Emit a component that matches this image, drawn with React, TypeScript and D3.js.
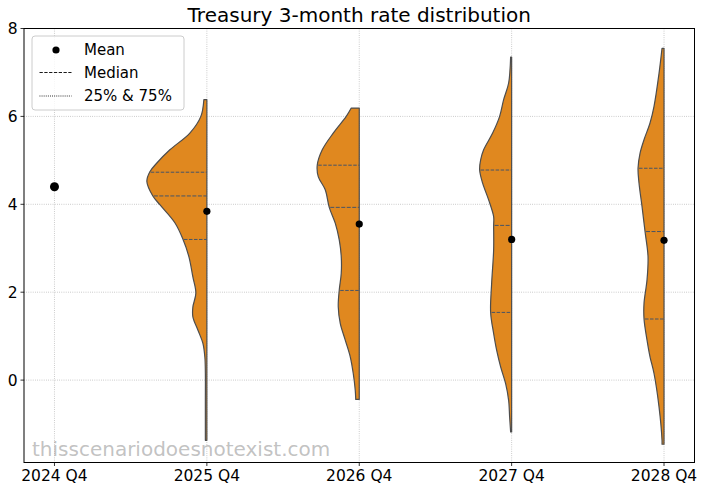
import React from "react";
import * as d3 from "d3";

const categories = ["2024 Q4", "2025 Q4", "2026 Q4", "2027 Q4", "2028 Q4"];
const means = [4.4, 3.84, 3.55, 3.2, 3.18];
const medians = [null, 4.19, 3.93, 3.52, 3.38];
const q25 = [null, 3.2, 2.04, 1.54, 1.39];
const q75 = [null, 4.73, 4.89, 4.78, 4.82];
const yTicks = [0, 2, 4, 6, 8];

// violin profiles: rate levels (top to bottom) and relative density at each level
const rates2025 = [6.38, 6.0, 5.62, 5.24, 4.94, 4.74, 4.52, 4.19, 3.99, 3.58, 3.21, 2.81, 2.35, 1.98, 1.66, 1.44, 1.14, 0.84, 0.52, 0.16, -0.5, -1.37];
const dens2025 = [0.03, 0.06, 0.17, 0.37, 0.5, 0.57, 0.6, 0.54, 0.47, 0.32, 0.24, 0.18, 0.14, 0.11, 0.14, 0.14, 0.09, 0.04, 0.02, 0.015, 0.015, 0.015];
const rates2026 = [6.19, 6.0, 5.62, 5.24, 4.89, 4.63, 4.33, 3.93, 3.57, 3.19, 2.81, 2.43, 2.05, 1.67, 1.29, 0.91, 0.53, 0.15, -0.23, -0.44];
const dens2026 = [0.08, 0.13, 0.26, 0.37, 0.42, 0.41, 0.34, 0.3, 0.24, 0.2, 0.18, 0.18, 0.2, 0.21, 0.19, 0.14, 0.09, 0.06, 0.04, 0.035];
const rates2027 = [7.35, 6.76, 6.38, 6.0, 5.62, 5.24, 5.01, 4.78, 4.48, 4.1, 3.72, 3.52, 2.96, 2.2, 1.54, 1.06, 0.68, 0.3, -0.08, -0.46, -0.84, -1.18];
const dens2027 = [0.01, 0.03, 0.08, 0.12, 0.19, 0.28, 0.31, 0.32, 0.29, 0.23, 0.18, 0.18, 0.18, 0.2, 0.21, 0.18, 0.15, 0.11, 0.06, 0.03, 0.02, 0.01];
const rates2028 = [7.55, 6.98, 6.23, 5.85, 5.47, 5.16, 4.82, 4.48, 3.95, 3.38, 2.81, 2.28, 1.75, 1.39, 0.91, 0.53, 0.15, -0.61, -1.37, -1.46];
const dens2028 = [0.02, 0.05, 0.1, 0.14, 0.2, 0.24, 0.26, 0.25, 0.22, 0.19, 0.16, 0.17, 0.2, 0.2, 0.17, 0.14, 0.1, 0.05, 0.02, 0.02];

const violinRates: (number[] | null)[] = [null, rates2025, rates2026, rates2027, rates2028];
const violinDens: (number[] | null)[] = [null, dens2025, dens2026, dens2027, dens2028];

const W = 704;
const H = 492;
const left = 24;
const right = 694.5;
const top = 28.5;
const bottom = 462.5;
const FONT = "DejaVu Sans, sans-serif";
const FILL = "#e0881f";
const INNER = "#475466";

export default function App() {
  const x = d3.scaleLinear().domain([-0.2, 4.2]).range([left, right]);
  const y = d3.scaleLinear().domain([-1.875, 8]).range([bottom, top]);
  const w = d3.scaleLinear().domain([0, 1]).range([0, 100]);

  const violins = categories.map((c, i) => {
    const rates = violinRates[i];
    const dens = violinDens[i];
    if (!rates || !dens) return null;
    const cx = x(i);
    const pts: [number, number][] = rates.map((r, k) => [cx - w(dens[k]), y(r)]);
    const edge = d3.line().curve(d3.curveCatmullRom.alpha(0.5))(pts) as string;
    const path = `M${cx},${y(rates[0])}L${edge.slice(1)}L${cx},${y(rates[rates.length - 1])}Z`;
    const interp = d3.scaleLinear().domain(rates).range(dens);
    const lines = [
      { v: q75[i] as number, dash: "3.5,1.5" },
      { v: medians[i] as number, dash: "4,1.5" },
      { v: q25[i] as number, dash: "3.5,1.5" },
    ];
    return (
      <g key={c}>
        <path d={path} fill={FILL} stroke="#4d4d4d" strokeWidth={1.2} strokeLinejoin="round" />
        {lines.map((l, k) => (
          <line
            key={k}
            x1={cx - w(interp(l.v)) + 1}
            x2={cx}
            y1={y(l.v)}
            y2={y(l.v)}
            stroke={INNER}
            strokeWidth={1}
            strokeDasharray={l.dash}
          />
        ))}
      </g>
    );
  });

  return (
    <svg
      width={W}
      height={H}
      style={{ position: "absolute", left: 0, top: 0, background: "#fff" }}
      fontFamily={FONT}
    >
      <rect x={0} y={0} width={W} height={H} fill="#fff" />
      {/* grid */}
      {categories.map((c, i) => (
        <line key={c} x1={x(i)} x2={x(i)} y1={top} y2={bottom} stroke="#b0b0b0" strokeWidth={0.8} strokeDasharray="0.8,1.4" />
      ))}
      {yTicks.map((t) => (
        <line key={t} x1={left} x2={right} y1={y(t)} y2={y(t)} stroke="#b0b0b0" strokeWidth={0.8} strokeDasharray="0.8,1.4" />
      ))}
      {violins}
      {/* means */}
      {means.map((m, i) => (
        <circle key={i} cx={x(i)} cy={y(m)} r={i === 0 ? 4.5 : 3.6} fill="#000" />
      ))}
      {/* spines */}
      <rect x={left} y={top} width={right - left} height={bottom - top} fill="none" stroke="#000" strokeWidth={1} />
      {/* y ticks */}
      {yTicks.map((t) => (
        <g key={t}>
          <line x1={left - 3.5} x2={left} y1={y(t)} y2={y(t)} stroke="#000" strokeWidth={0.8} />
          <text x={left - 6.5} y={y(t)} dy="0.36em" textAnchor="end" fontSize={15.5} fill="#000">
            {t}
          </text>
        </g>
      ))}
      {/* x ticks */}
      {categories.map((c, i) => (
        <g key={c}>
          <line x1={x(i)} x2={x(i)} y1={bottom} y2={bottom + 3.5} stroke="#000" strokeWidth={0.8} />
          <text x={x(i)} y={481} textAnchor="middle" fontSize={15.5} fill="#000">
            {c}
          </text>
        </g>
      ))}
      {/* title */}
      <text x={(left + right) / 2} y={22} textAnchor="middle" fontSize={20} fill="#000">
        Treasury 3-month rate distribution
      </text>
      {/* legend */}
      <g>
        <rect x={32} y={36} width={152} height={74} rx={3} fill="#fff" fillOpacity={0.8} stroke="#cccccc" strokeWidth={1} />
        <circle cx={56} cy={50} r={3.6} fill="#000" />
        <text x={84} y={50} dy="0.36em" fontSize={15} fill="#000">Mean</text>
        <line x1={39.5} x2={71.5} y1={72.5} y2={72.5} stroke="#000" strokeWidth={0.9} strokeDasharray="3.3,1.5" />
        <text x={84} y={72.5} dy="0.36em" fontSize={15} fill="#000">Median</text>
        <line x1={39.5} x2={71.5} y1={96} y2={96} stroke="#000" strokeWidth={0.9} strokeDasharray="0.9,1.2" />
        <text x={84} y={96} dy="0.36em" fontSize={15} fill="#000">25% &amp; 75%</text>
      </g>
      {/* watermark */}
      <text x={32} y={456} fontSize={20} fill="#a0a0a0" fillOpacity={0.65}>
        thisscenariodoesnotexist.com
      </text>
    </svg>
  );
}
